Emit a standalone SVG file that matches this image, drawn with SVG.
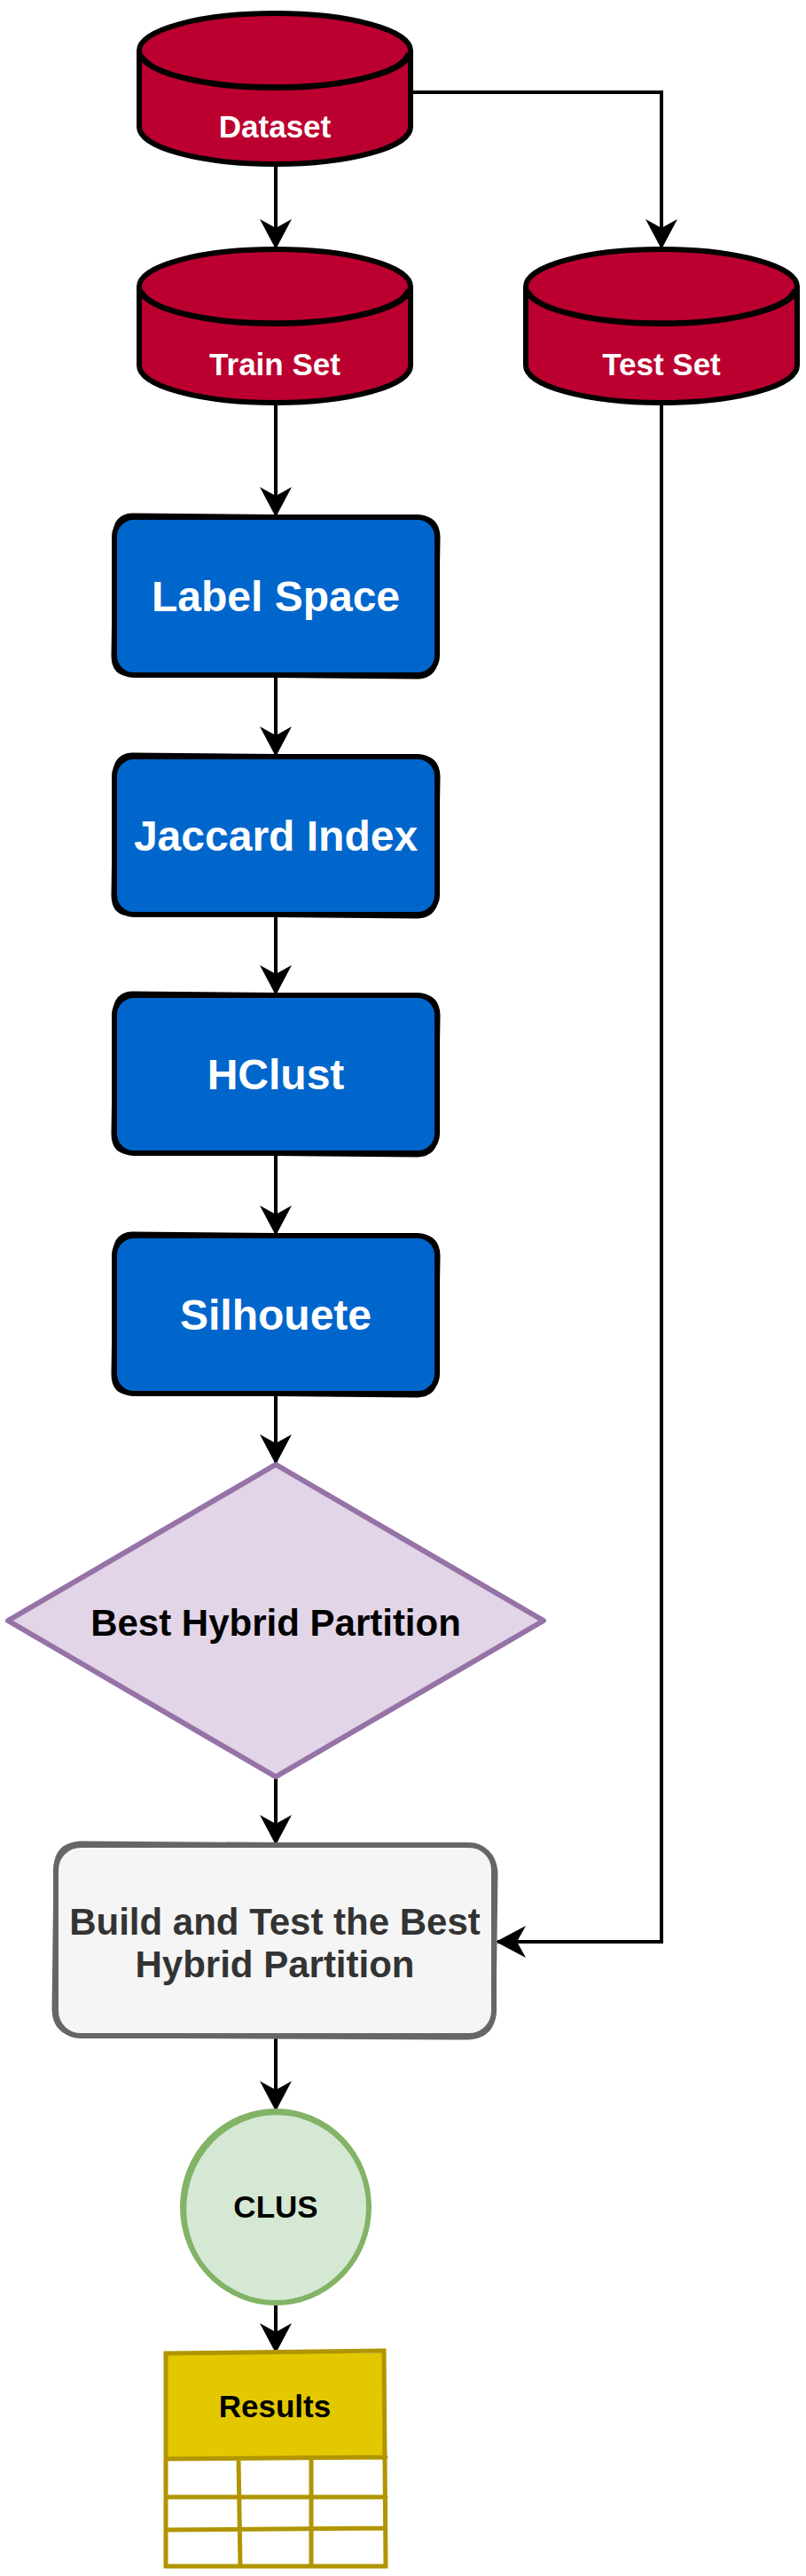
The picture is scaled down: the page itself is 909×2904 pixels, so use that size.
<svg xmlns="http://www.w3.org/2000/svg" width="909" height="2904" viewBox="0 0 909 2904">
<defs>
<style>
.cyl{fill:#bb002f;stroke:#000;stroke-width:6;stroke-linejoin:round}
.cylt{fill:none;stroke:#000;stroke-width:6}
.cyls{fill:none;stroke:#000;stroke-width:2.5}
.blue{fill:#0066cc;stroke:#000;stroke-width:6}
.sk{fill:none;stroke:#000;stroke-width:3;stroke-linecap:round}
.skg{fill:none;stroke:#666;stroke-width:3;stroke-linecap:round}
.wt{font-family:"Liberation Sans",Arial,sans-serif;font-weight:bold;fill:#fff;text-anchor:middle}
.bt{font-family:"Liberation Sans",Arial,sans-serif;font-weight:bold;fill:#000;text-anchor:middle}
.gt{font-family:"Liberation Sans",Arial,sans-serif;font-weight:bold;fill:#333;text-anchor:middle}
.edge{fill:none;stroke:#000;stroke-width:4;marker-end:url(#arr)}
.tbl{stroke:#b09500;stroke-width:5;stroke-linecap:round}
</style>
<marker id="arr" viewBox="0 0 34 36" markerWidth="34" markerHeight="36" refX="32" refY="18" orient="auto" markerUnits="userSpaceOnUse">
<path d="M34,18 L0,0 L10,18 L0,36 Z" fill="#000"/>
</marker>
<path id="boxsketch" d="M20,-3 L346,0 Q365,1 366,22 L364,158 Q363,180 342,181 L18,178 Q-2,178 -2,156 L0,20 Q0,-2 20,-3 Z"/>
</defs>
<g id="connectors">
<path class="edge" d="M311,187 L311,279"/>
<path class="edge" d="M463,104 L746,104 L746,279"/>
<path class="edge" d="M311,456 L311,581"/>
<path class="edge" d="M746,456 L746,2189 L561,2189"/>
<path class="edge" d="M311,763 L311,851"/>
<path class="edge" d="M311,1033 L311,1120"/>
<path class="edge" d="M311,1302 L311,1391"/>
<path class="edge" d="M311,1573 L311,1649"/>
<path class="edge" d="M311,2005 L311,2078"/>
<path class="edge" d="M311,2297 L311,2378"/>
<path class="edge" d="M311,2599 L311,2651"/>
</g>
<g id="dataset">
<path class="cyl" d="M157,57 A153,42 0 0 1 463,57 L463,143 A153,42 0 0 1 157,143 Z"/>
<path class="cylt" d="M157,57 A153,42 0 0 0 463,57"/>
<path class="cyls" d="M161,62 A150,40 0 0 0 459,60"/>
<text class="wt" x="310" y="155" font-size="35">Dataset</text>
</g>
<g id="train-set">
<path class="cyl" d="M157,323 A153,42 0 0 1 463,323 L463,412 A153,42 0 0 1 157,412 Z"/>
<path class="cylt" d="M157,323 A153,42 0 0 0 463,323"/>
<path class="cyls" d="M161,328 A150,40 0 0 0 459,326"/>
<text class="wt" x="310" y="423" font-size="35">Train Set</text>
</g>
<g id="test-set">
<path class="cyl" d="M593,323 A153,42 0 0 1 899,323 L899,412 A153,42 0 0 1 593,412 Z"/>
<path class="cylt" d="M593,323 A153,42 0 0 0 899,323"/>
<path class="cyls" d="M597,328 A150,40 0 0 0 895,326"/>
<text class="wt" x="746" y="423" font-size="35">Test Set</text>
</g>
<g id="label-space">
<rect class="blue" x="129" y="583" width="364" height="178" rx="22"/>
<use href="#boxsketch" class="sk" transform="translate(129,583)"/>
<text class="wt" x="311" y="689" font-size="48">Label Space</text>
</g>
<g id="jaccard-index">
<rect class="blue" x="129" y="853" width="364" height="178" rx="22"/>
<use href="#boxsketch" class="sk" transform="translate(129,853)"/>
<text class="wt" x="311" y="959" font-size="48">Jaccard Index</text>
</g>
<g id="hclust">
<rect class="blue" x="129" y="1122" width="364" height="178" rx="22"/>
<use href="#boxsketch" class="sk" transform="translate(129,1122)"/>
<text class="wt" x="311" y="1228" font-size="48">HClust</text>
</g>
<g id="silhouete">
<rect class="blue" x="129" y="1393" width="364" height="178" rx="22"/>
<use href="#boxsketch" class="sk" transform="translate(129,1393)"/>
<text class="wt" x="311" y="1499" font-size="48">Silhouete</text>
</g>
<g id="best-hybrid-partition">
<path d="M311,1651 L613,1827 L311,2003 L9,1827 Z" fill="#e1d5e7" stroke="#9673a6" stroke-width="6" stroke-linejoin="round"/>
<text class="bt" x="311" y="1844" font-size="42">Best Hybrid Partition</text>
</g>
<g id="build-and-test">
<rect x="63" y="2080" width="494" height="215" rx="28" fill="#f5f5f5" stroke="#666" stroke-width="6"/>
<path class="skg" d="M90,2077 L530,2080 Q557,2082 560,2110 L558,2270 Q556,2296 528,2298 L92,2296 Q61,2294 60,2266 L62,2105 Q63,2079 90,2077 Z"/>
<text class="gt" x="310" y="2181" font-size="42">Build and Test the Best</text>
<text class="gt" x="310" y="2229" font-size="42">Hybrid Partition</text>
</g>
<g id="clus">
<ellipse cx="311" cy="2488" rx="105" ry="108" fill="#d5e8d4" stroke="#82b366" stroke-width="6"/>
<ellipse cx="312" cy="2490" rx="103" ry="107" fill="none" stroke="#82b366" stroke-width="2.5"/>
<text class="bt" x="311" y="2500" font-size="35">CLUS</text>
</g>
<g id="results">
<rect x="187" y="2653" width="246" height="119" fill="#e3c800"/>
<rect x="187" y="2772" width="246" height="121" fill="#fff"/>
<path class="tbl" fill="none" d="M187,2653 L433,2650 L435,2893 L187,2893 Z M187,2772 L435,2770 M187,2815 L435,2815 M187,2852 L435,2850 M269,2772 L271,2893 M351,2772 L351,2893"/>
<text class="bt" x="310" y="2725" font-size="35">Results</text>
</g>
</svg>
